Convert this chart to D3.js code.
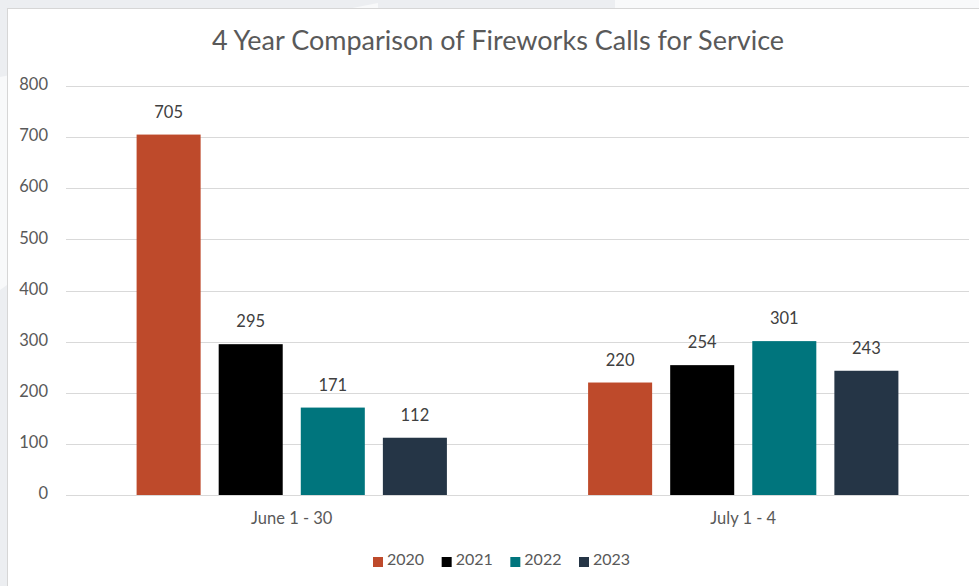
<!DOCTYPE html>
<html>
<script src="https://d3js.org/d3.v7.min.js"></script>

<head>
    <style>
        body {
            margin: 0;
            font-family: Lato, "Noto Sans", sans-serif;
            background-color: #eceef1;
        }

        svg {
            display: block;
        }
    </style>
</head>

<body>
</body>
<script>
    const width = 979,
        height = 586;

    const periods = ["June 1 - 30", "July 1 - 4"];
    const years = ["2020", "2021", "2022", "2023"];
    const calls2020 = [705, 220];
    const calls2021 = [295, 254];
    const calls2022 = [171, 301];
    const calls2023 = [112, 243];
    const yTicks = [0, 100, 200, 300, 400, 500, 600, 700, 800];
    const colors = ["#be4a2b", "#000000", "#00757d", "#253546"];

    const series = [calls2020, calls2021, calls2022, calls2023];

    const svg = d3.select("body").append("svg").attr("width", width).attr("height", height);

    function background() {
        svg.append("rect").attr("width", width).attr("height", height).attr("fill", "#eceef1");
        // pale wedge behind the chart, top left
        svg.append("path")
            .attr("d", "M0,77 L378,3 L378,20 L0,290 Z")
            .attr("fill", "#f8f9fa");
        svg.append("rect").attr("x", 615).attr("y", 0).attr("width", 400).attr("height", 10).attr("fill", "#f8f9fa");
        svg.append("rect")
            .attr("x", 7.5).attr("y", 8.5)
            .attr("width", width).attr("height", height)
            .attr("fill", "white")
            .attr("stroke", "#d6d6d6");
    }

    function draw() {
        const left = 66, right = 969, top = 86, bottom = 495;

        const x0 = d3.scaleBand().domain(periods).range([left, right]);
        const x1 = d3.scaleBand().domain(years).range([0, x0.bandwidth()])
            .paddingInner(0.22).paddingOuter(0.86);
        const y = d3.scaleLinear().domain([0, 800]).range([bottom, top]);

        // gridlines
        svg.append("g")
            .selectAll("line")
            .data(yTicks)
            .join("line")
            .attr("x1", left)
            .attr("x2", right)
            .attr("y1", d => Math.round(y(d)) + 0.5)
            .attr("y2", d => Math.round(y(d)) + 0.5)
            .attr("stroke", "#d9d9d9")
            .attr("stroke-width", 1);

        // y axis labels
        svg.append("g")
            .selectAll("text")
            .data(yTicks)
            .join("text")
            .attr("x", 48)
            .attr("y", d => y(d))
            .attr("text-anchor", "end")
            .attr("dominant-baseline", "middle")
            .attr("font-size", "16.5px")
            .attr("fill", "#595959")
            .text(d => d);

        // bars
        const groups = svg.append("g")
            .selectAll("g")
            .data(periods)
            .join("g")
            .attr("transform", d => `translate(${x0(d)},0)`);

        groups.selectAll("rect")
            .data((d, i) => years.map((yr, j) => ({ year: yr, value: series[j][i], color: colors[j] })))
            .join("rect")
            .attr("x", d => x1(d.year))
            .attr("y", d => y(d.value))
            .attr("width", x1.bandwidth())
            .attr("height", d => y(0) - y(d.value))
            .attr("fill", d => d.color);

        groups.selectAll("text")
            .data((d, i) => years.map((yr, j) => ({ year: yr, value: series[j][i] })))
            .join("text")
            .attr("x", d => x1(d.year) + x1.bandwidth() / 2)
            .attr("y", d => y(d.value) - 21)
            .attr("text-anchor", "middle")
            .attr("dominant-baseline", "middle")
            .attr("font-size", "16.5px")
            .attr("fill", "#404040")
            .text(d => d.value);

        // category labels
        svg.append("g")
            .selectAll("text")
            .data(periods)
            .join("text")
            .attr("x", d => x0(d) + x0.bandwidth() / 2)
            .attr("y", 520)
            .attr("text-anchor", "middle")
            .attr("dominant-baseline", "middle")
            .attr("font-size", "16.5px")
            .attr("fill", "#595959")
            .text(d => d);

        // title
        svg.append("text")
            .attr("x", 498)
            .attr("y", 43)
            .attr("text-anchor", "middle")
            .attr("dominant-baseline", "middle")
            .attr("font-size", "27px")
            .attr("fill", "#595959")
            .text("4 Year Comparison of Fireworks Calls for Service");

        legend();
    }

    function legend() {
        const lx = d3.scalePoint().domain(years).range([373, 579]);
        const items = svg.append("g")
            .selectAll("g")
            .data(years)
            .join("g")
            .attr("transform", d => `translate(${lx(d)},561)`);
        items.append("rect")
            .attr("x", 0)
            .attr("y", -4)
            .attr("width", 10)
            .attr("height", 10)
            .attr("fill", (d, i) => colors[i]);
        items.append("text")
            .attr("x", 14)
            .attr("y", 0)
            .attr("dominant-baseline", "middle")
            .attr("font-size", "16px")
            .attr("fill", "#595959")
            .text(d => d);
    }

    background();
    draw();
</script>

</html>
